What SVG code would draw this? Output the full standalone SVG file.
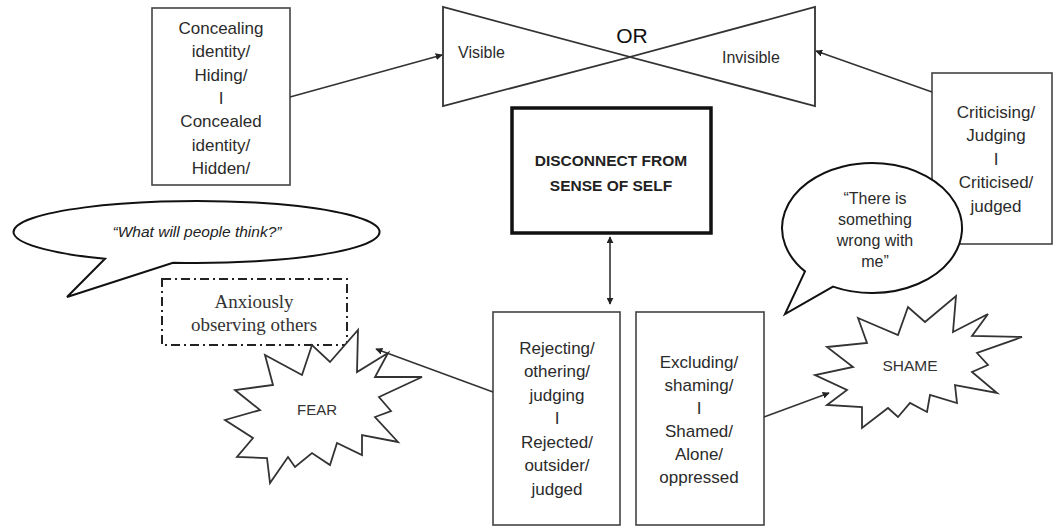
<svg xmlns="http://www.w3.org/2000/svg" width="1055" height="527" viewBox="0 0 1055 527">
  <defs>
    <marker id="arrow" viewBox="0 0 10 10" refX="9" refY="5" markerWidth="7" markerHeight="7" orient="auto-start-reverse" markerUnits="userSpaceOnUse">
      <path d="M0,0 L10,5 L0,10 Z" fill="#222"/>
    </marker>
    <style>
      .box { fill: #fff; stroke: #444; stroke-width: 1.6; }
      .shape { fill: #fff; stroke: #333; stroke-width: 1.8; }
      .bubble { fill: #fff; stroke: #111; stroke-width: 2; }
      .txt { font-family: "Liberation Sans", Arial, sans-serif; font-size: 17px; fill: #2b2b2b; text-anchor: middle; }
      .lbl { font-family: "Liberation Sans", Arial, sans-serif; font-size: 16px; fill: #2b2b2b; }
      .link { fill: none; stroke: #333; stroke-width: 1.6; }
    </style>
  </defs>
  <rect width="1055" height="527" fill="#fff"/>

  <!-- hiding / hidden -->
  <g id="concealing">
    <rect class="box" x="152" y="8" width="138" height="177"/>
    <text class="txt" x="221" y="34">Concealing</text>
    <text class="txt" x="221" y="57">identity/</text>
    <text class="txt" x="221" y="81">Hiding/</text>
    <text class="txt" x="221" y="104">I</text>
    <text class="txt" x="221" y="127">Concealed</text>
    <text class="txt" x="221" y="151">identity/</text>
    <text class="txt" x="221" y="174">Hidden/</text>
  </g>

  <!-- visible / invisible bowtie -->
  <g id="bowtie">
    <path class="shape" stroke-width="1.4" d="M443,7 L443,106 L630,57 Z M815,7 L815,106 L630,57 Z"/>
    <text x="632" y="43" text-anchor="middle" font-family="Liberation Sans, Arial, sans-serif" font-size="21" fill="#111">OR</text>
    <text class="lbl" x="458" y="58" font-size="16.5">Visible</text>
    <text class="lbl" x="722" y="63" font-size="16.5">Invisible</text>
  </g>

  <!-- criticising / criticised -->
  <g id="criticising">
    <rect class="box" x="932" y="73" width="120" height="171"/>
    <text class="txt" x="996" y="118">Criticising/</text>
    <text class="txt" x="996" y="141">Judging</text>
    <text class="txt" x="996" y="165">I</text>
    <text class="txt" x="996" y="188">Criticised/</text>
    <text class="txt" x="996" y="212">judged</text>
  </g>

  <!-- central box -->
  <g id="disconnect">
    <rect x="512" y="108" width="199" height="125" fill="#fff" stroke="#111" stroke-width="3.5"/>
    <text x="611" y="166" text-anchor="middle" font-family="Liberation Sans, Arial, sans-serif" font-size="15.5" font-weight="bold" fill="#222">DISCONNECT FROM</text>
    <text x="611" y="191" text-anchor="middle" font-family="Liberation Sans, Arial, sans-serif" font-size="15.5" font-weight="bold" fill="#222">SENSE OF SELF</text>
  </g>

  <!-- thought bubble, left -->
  <g id="bubble-think">
    <path class="bubble" d="M173,262.7 A183 31 0 1 0 105,258.8 L67,297 Z"/>
    <text x="197" y="237" text-anchor="middle" font-family="Liberation Sans, Arial, sans-serif" font-size="15.5" font-style="italic" fill="#222">“What will people think?”</text>
  </g>

  <!-- anxiously observing -->
  <g id="observing">
    <rect x="162" y="279" width="185" height="66" fill="#fff" stroke="#222" stroke-width="2" stroke-dasharray="9 4 2 4"/>
    <text x="254" y="308" text-anchor="middle" font-family="Liberation Serif, Times New Roman, serif" font-size="19" fill="#333">Anxiously</text>
    <text x="254" y="331" text-anchor="middle" font-family="Liberation Serif, Times New Roman, serif" font-size="19" fill="#333">observing others</text>
  </g>

  <!-- FEAR burst -->
  <g id="fear">
    <polygon class="shape" points="358,330 357,372 388,353 375,377 422,377 379,397 391,411 375,417 398,442 362,435 362,455 337,443 330,465 312,453 295,467 288,457 270,483 267,458 237,457 253,438 225,420 260,410 235,390 273,385 265,355 302,375 312,345 330,362"/>
    <text x="317" y="415" text-anchor="middle" font-family="Liberation Sans, Arial, sans-serif" font-size="15" fill="#333">FEAR</text>
  </g>

  <!-- speech bubble, right -->
  <g id="bubble-wrong">
    <path class="bubble" d="M833,286.6 A90 65 0 1 0 805,271.4 L785,314 Z"/>
    <text class="lbl" x="875" y="204" text-anchor="middle">“There is</text>
    <text class="lbl" x="875" y="225" text-anchor="middle">something</text>
    <text class="lbl" x="875" y="246" text-anchor="middle">wrong with</text>
    <text class="lbl" x="875" y="267" text-anchor="middle">me”</text>
  </g>

  <!-- SHAME burst -->
  <g id="shame">
    <polygon class="shape" points="858,318 898,335 908,307 925,322 956,296 953,332 988,314 972,336 1022,337 977,353 988,365 972,372 997,393 955,385 957,403 930,395 927,412 910,403 898,417 888,408 862,428 862,407 827,405 847,390 815,375 853,367 827,347 867,343"/>
    <text x="910" y="371" text-anchor="middle" font-family="Liberation Sans, Arial, sans-serif" font-size="15.5" fill="#333">SHAME</text>
  </g>

  <!-- rejecting / rejected -->
  <g id="rejecting">
    <rect class="box" x="493" y="312" width="127" height="213"/>
    <text class="txt" x="557" y="354">Rejecting/</text>
    <text class="txt" x="557" y="377">othering/</text>
    <text class="txt" x="557" y="401">judging</text>
    <text class="txt" x="557" y="424">I</text>
    <text class="txt" x="557" y="448">Rejected/</text>
    <text class="txt" x="557" y="471">outsider/</text>
    <text class="txt" x="557" y="495">judged</text>
  </g>

  <!-- excluding / shamed -->
  <g id="excluding">
    <rect class="box" x="636" y="312" width="128" height="213"/>
    <text class="txt" x="699" y="368">Excluding/</text>
    <text class="txt" x="699" y="391">shaming/</text>
    <text class="txt" x="699" y="414">I</text>
    <text class="txt" x="699" y="437">Shamed/</text>
    <text class="txt" x="699" y="460">Alone/</text>
    <text class="txt" x="699" y="483">oppressed</text>
  </g>

  <!-- connectors -->
  <g id="connectors">
    <line class="link" x1="290" y1="97" x2="442" y2="55" marker-end="url(#arrow)"/>
    <line class="link" x1="932" y1="92" x2="816" y2="51" marker-end="url(#arrow)"/>
    <line class="link" x1="610" y1="237" x2="610" y2="304" stroke="#555" marker-start="url(#arrow)" marker-end="url(#arrow)"/>
    <line class="link" x1="493" y1="392" x2="376" y2="349" marker-end="url(#arrow)"/>
    <line class="link" x1="764" y1="417" x2="829" y2="393" marker-end="url(#arrow)"/>
  </g>
</svg>
